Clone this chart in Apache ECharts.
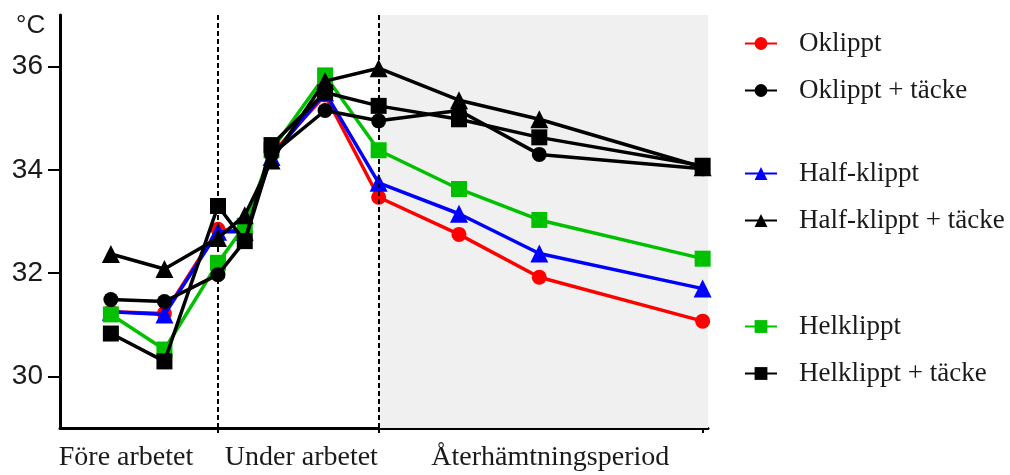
<!DOCTYPE html>
<html>
<head>
<meta charset="utf-8">
<script src="https://cdn.jsdelivr.net/npm/echarts@6/dist/echarts.min.js"></script>
<style>html,body{margin:0;padding:0;background:#fff}#c{width:1010px;height:475px}</style>
</head>
<body>
<div id="c"></div>
<script>
// x positions of measurement points (relative time units)
const xPos = [0, 2, 4, 5, 6, 8, 10, 13, 16, 22.1];
const periodBounds = [-1.9, 4, 10, 22.3];
const periodLabels = ['Före arbetet', 'Under arbetet', 'Återhämtningsperiod'];
const yTicks = [30, 32, 34, 36];

const seriesNames = ['Oklippt', 'Oklippt + täcke', 'Half-klippt', 'Half-klippt + täcke', 'Helklippt', 'Helklippt + täcke'];
const oklippt         = [31.25, 31.22, 32.85, 32.80, 34.30, 35.45, 33.47, 32.75, 31.92, 31.07];
const oklipptTacke    = [31.49, 31.45, 31.97, 32.62, 34.30, 35.15, 34.95, 35.15, 34.30, 34.02];
const halfklippt      = [31.25, 31.20, 32.80, 32.80, 34.25, 35.50, 33.75, 33.15, 32.38, 31.70];
const halfklipptTacke = [32.37, 32.08, 32.68, 33.12, 34.18, 35.72, 35.97, 35.35, 34.98, 34.05];
const helklippt       = [31.20, 30.52, 32.20, 32.92, 34.38, 35.83, 34.38, 33.63, 33.03, 32.28];
const helklipptTacke  = [30.83, 30.29, 33.30, 32.62, 34.48, 35.50, 35.24, 34.98, 34.63, 34.08];

const allValues = [oklippt, oklipptTacke, halfklippt, halfklipptTacke, helklippt, helklipptTacke];
const colors = ['#ff0000', '#000000', '#0000ff', '#000000', '#00c000', '#000000'];
const symbols = ['circle', 'circle', 'triangle', 'triangle', 'rect', 'rect'];
const symSizes = [15, 15, 18, 18, 16, 16];
const drawOrder = [0, 2, 4, 1, 3, 5];

const chart = echarts.init(document.getElementById('c'), null, {renderer: 'canvas'});

const series = drawOrder.map(i => ({
  name: seriesNames[i],
  type: 'line',
  data: xPos.map((x, k) => [x, allValues[i][k]]),
  symbol: symbols[i],
  symbolSize: symSizes[i],
  showAllSymbol: true,
  lineStyle: {color: colors[i], width: 3.5},
  itemStyle: {color: colors[i]},
  z: 3 + drawOrder.indexOf(i),
  animation: false
}));

// helper series for period shading, labels and dashed separators
series.unshift({
  name: 'periods',
  type: 'line',
  data: [],
  silent: true,
  animation: false,
  z: 1,
  markArea: {
    silent: true,
    data: periodLabels.map((lab, i) => [
      {xAxis: periodBounds[i], itemStyle: {color: i === 2 ? '#f0f0f0' : 'rgba(0,0,0,0)'},
       label: {show: true, position: 'bottom', distance: 16, offset: [[-13, 0], [3, 0], [7, 0]][i],
                formatter: lab, fontFamily: 'Liberation Serif', fontSize: 28, color: '#1a1a1a'}},
      {xAxis: periodBounds[i + 1]}
    ])
  },
  markLine: {
    silent: true,
    symbol: 'none',
    label: {show: false},
    lineStyle: {color: '#000', width: 2, type: [5, 3]},
    data: [{xAxis: periodBounds[1]}, {xAxis: periodBounds[2]}]
  }
});

const legendBase = {
  orient: 'vertical',
  left: 739,
  itemWidth: 32,
  itemHeight: 16,
  itemGap: 20,
  textStyle: {fontFamily: 'Liberation Serif', fontSize: 27, color: '#1a1a1a', padding: [0, 0, 0, 17]}
};

chart.setOption({
  backgroundColor: '#ffffff',
  animation: false,
  title: {
    text: '°C', left: 11, top: 8,
    textStyle: {fontFamily: 'Liberation Sans', fontSize: 26, fontWeight: 'normal', color: '#1a1a1a'}
  },
  legend: [
    Object.assign({}, legendBase, {top: 25, data: seriesNames.slice(0, 2)}),
    Object.assign({}, legendBase, {top: 155, data: seriesNames.slice(2, 4)}),
    Object.assign({}, legendBase, {top: 308, data: seriesNames.slice(4, 6)})
  ],
  grid: {left: 60, right: 302, top: 15, bottom: 47, containLabel: false},
  xAxis: {
    type: 'value',
    min: periodBounds[0],
    max: periodBounds[3],
    axisLine: {onZero: false, lineStyle: {color: '#000', width: 3}},
    axisTick: {show: true, length: 5, lineStyle: {color: '#000', width: 2}, customValues: [periodBounds[1], periodBounds[2], xPos[xPos.length - 1]]},
    axisLabel: {show: false},
    splitLine: {show: false}
  },
  yAxis: {
    type: 'value',
    min: 29,
    max: 37,
    axisLine: {show: true, onZero: false, lineStyle: {color: '#000', width: 3}},
    axisTick: {show: true, length: 12, lineStyle: {color: '#000', width: 2}, customValues: yTicks},
    axisLabel: {fontFamily: 'Liberation Sans', fontSize: 28, color: '#1a1a1a', margin: 17, customValues: yTicks},
    splitLine: {show: false}
  },
  series: series
});
</script>
</body>
</html>
